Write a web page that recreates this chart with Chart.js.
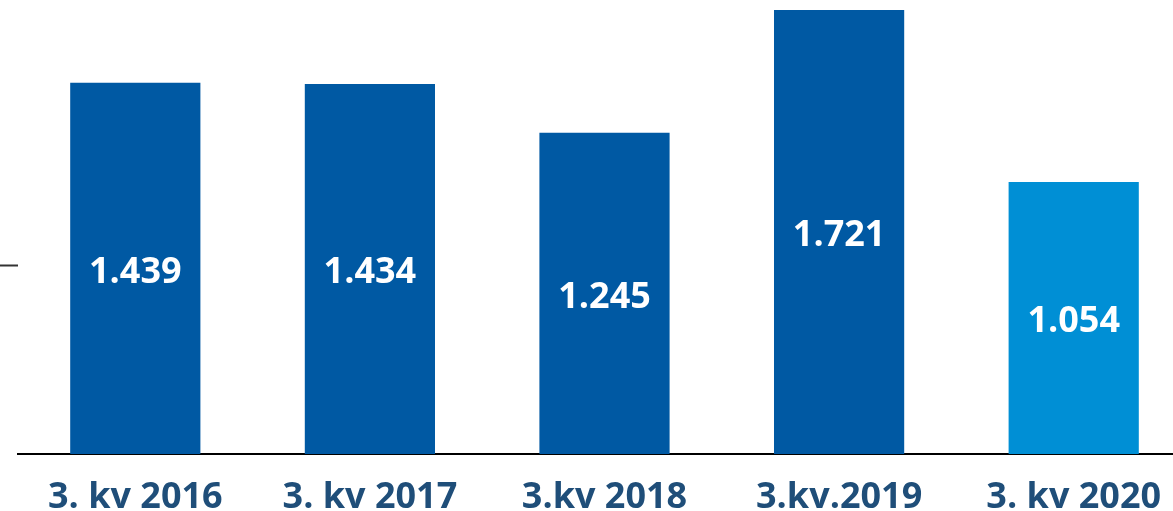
<!DOCTYPE html>
<html>
<head>
<meta charset="utf-8">
<script src="https://cdn.jsdelivr.net/npm/chart.js@4"></script>
<style>
  html, body { margin: 0; padding: 0; background: #fff; overflow: hidden; }
  #wrap { width: 1173px; height: 511px; overflow: hidden; }
</style>
</head>
<body>
<div id="wrap"><canvas id="chartKv" width="1191" height="542"></canvas></div>
<script>
const kvLabels = ['3. kv 2016', '3. kv 2017', '3.kv 2018', '3.kv.2019', '3. kv 2020'];
const kvValues = [1.439, 1.434, 1.245, 1.721, 1.054];
const kvColors = ['#0059a3', '#0059a3', '#0059a3', '#0059a3', '#008fd5'];
const yTickMarks = [0.73];

const fontFamily = "'Open Sans', 'Liberation Sans', sans-serif";

// white numbers in the middle of each bar
const valueLabels = {
  id: 'valueLabels',
  afterDatasetsDraw(chart) {
    const ctx = chart.ctx;
    const meta = chart.getDatasetMeta(0);
    ctx.save();
    ctx.fillStyle = '#ffffff';
    ctx.font = 'bold 36px ' + fontFamily;
    ctx.textAlign = 'center';
    ctx.textBaseline = 'middle';
    meta.data.forEach(function (bar, i) {
      const y = (bar.y + bar.base) / 2 + 4;
      ctx.fillText(kvValues[i].toFixed(3), bar.x, y);
    });
    ctx.restore();
  }
};

const ctx = document.getElementById('chartKv').getContext('2d');

const myChart = new Chart(ctx, {
  type: 'bar',
  data: {
    labels: kvLabels,
    datasets: [
      {
        data: kvValues,
        backgroundColor: kvColors,
        borderWidth: 0,
        barPercentage: 0.555,
        categoryPercentage: 1
      }
    ]
  },
  options: {
    responsive: false,
    animation: false,
    layout: {
      padding: 0
    },
    plugins: {
      legend: { display: false },
      tooltip: { enabled: false }
    },
    scales: {
      x: {
        grid: { display: true, drawOnChartArea: false, drawTicks: false },
        border: { display: true, color: '#000000', width: 2 },
        ticks: {
          color: '#1f4e79',
          padding: 26,
          font: { family: fontFamily, size: 36, weight: 'bold', lineHeight: 1 }
        }
      },
      y: {
        min: 0,
        max: 1.76,
        afterBuildTicks: function (axis) {
          axis.ticks = yTickMarks.map(function (v) { return { value: v }; });
        },
        grid: {
          display: true,
          drawOnChartArea: false,
          drawTicks: true,
          tickLength: 18,
          tickWidth: 2,
          tickColor: '#333333'
        },
        border: { display: false },
        ticks: { display: false }
      }
    }
  },
  plugins: [valueLabels]
});
</script>
</body>
</html>
